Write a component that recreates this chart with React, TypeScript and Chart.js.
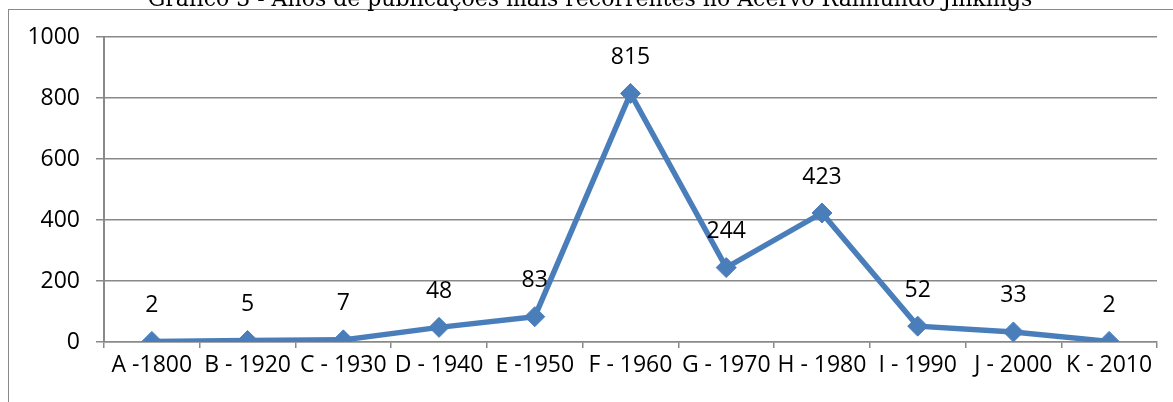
import React, { useEffect, useRef } from "react";
import { Chart, registerables } from "chart.js";

Chart.register(...registerables);

const TITLE = "Gráfico 3 - Anos de publicações mais recorrentes no Acervo Raimundo Jinkings";
const categories = [
  "A -1800",
  "B - 1920",
  "C - 1930",
  "D - 1940",
  "E -1950",
  "F - 1960",
  "G - 1970",
  "H - 1980",
  "I - 1990",
  "J - 2000",
  "K - 2010",
];
const values = [2, 5, 7, 48, 83, 815, 244, 423, 52, 33, 2];
const yTicks = [0, 200, 400, 600, 800, 1000];

const LINE_COLOR = "#4A7EBB";
const GRID_COLOR = "#898989";
const FONT = "'Open Sans'";
const FONT_SIZE = 23;

const framePlugin = {
  id: "frame",
  beforeDraw(chart: any) {
    const { ctx, width, height } = chart;
    ctx.save();
    ctx.fillStyle = "#ffffff";
    ctx.fillRect(0, 0, width, height);
    ctx.strokeStyle = GRID_COLOR;
    ctx.lineWidth = 1;
    ctx.strokeRect(8.5, 9.5, width + 40, height + 40);
    ctx.fillStyle = "#000000";
    ctx.font = `22px "DejaVu Serif"`;
    ctx.textAlign = "center";
    ctx.textBaseline = "alphabetic";
    ctx.fillText(TITLE, 590, 5.5);
    ctx.restore();
  },
};

const labelPlugin = {
  id: "pointLabels",
  afterDatasetsDraw(chart: any) {
    const { ctx } = chart;
    const meta = chart.getDatasetMeta(0);
    ctx.save();
    ctx.fillStyle = "#000000";
    ctx.font = `${FONT_SIZE}px ${FONT}`;
    ctx.textAlign = "center";
    ctx.textBaseline = "middle";
    meta.data.forEach((pt: any, i: number) => {
      ctx.fillText(String(values[i]), pt.x, pt.y - 36);
    });
    ctx.restore();
  },
};

export default function App() {
  const ref = useRef<HTMLCanvasElement | null>(null);
  useEffect(() => {
    if (!ref.current) return;
    const chart = new Chart(ref.current, {
      type: "line",
      data: {
        labels: categories,
        datasets: [
          {
            data: values,
            borderColor: LINE_COLOR,
            backgroundColor: LINE_COLOR,
            borderWidth: 5.5,
            pointStyle: "rectRot",
            pointRadius: 10,
            pointBorderWidth: 1,
            pointBackgroundColor: LINE_COLOR,
            pointBorderColor: LINE_COLOR,
            tension: 0,
          },
        ],
      },
      options: {
        animation: false,
        responsive: false,
        maintainAspectRatio: false,
        layout: { padding: { top: 37, right: 16, left: 0, bottom: 0 } },
        plugins: {
          legend: { display: false },
          title: { display: false },
          tooltip: { enabled: false },
        },
        scales: {
          x: {
            type: "category",
            offset: true,
            grid: {
              drawOnChartArea: false,
              drawTicks: true,
              offset: true,
              tickLength: 6,
              color: GRID_COLOR,
              lineWidth: 1.5,
            },
            border: { color: GRID_COLOR, width: 1.5 },
            ticks: {
              color: "#000000",
              font: { family: FONT, size: FONT_SIZE },
              maxRotation: 0,
              minRotation: 0,
              autoSkip: false,
              padding: 4,
            },
            afterFit(scale: any) {
              scale.height = 60;
            },
          },
          y: {
            min: 0,
            max: 1000,
            afterBuildTicks(scale: any) {
              scale.ticks = yTicks.map((v) => ({ value: v }));
            },
            grid: {
              color: GRID_COLOR,
              lineWidth: 1.5,
              tickLength: 8,
            },
            border: { color: GRID_COLOR, width: 2 },
            ticks: {
              color: "#000000",
              font: { family: FONT, size: FONT_SIZE },
              padding: 16,
              callback: (v: any) => String(v),
            },
            afterFit(scale: any) {
              scale.width = 104;
            },
          },
        },
      },
      plugins: [framePlugin, labelPlugin],
    });
    return () => chart.destroy();
  }, []);

  return (
    <div style={{ position: "fixed", left: 0, top: 0, width: 1173, height: 402 }}>
      <canvas ref={ref} width={1173} height={402} style={{ width: 1173, height: 402, display: "block" }} />
    </div>
  );
}
